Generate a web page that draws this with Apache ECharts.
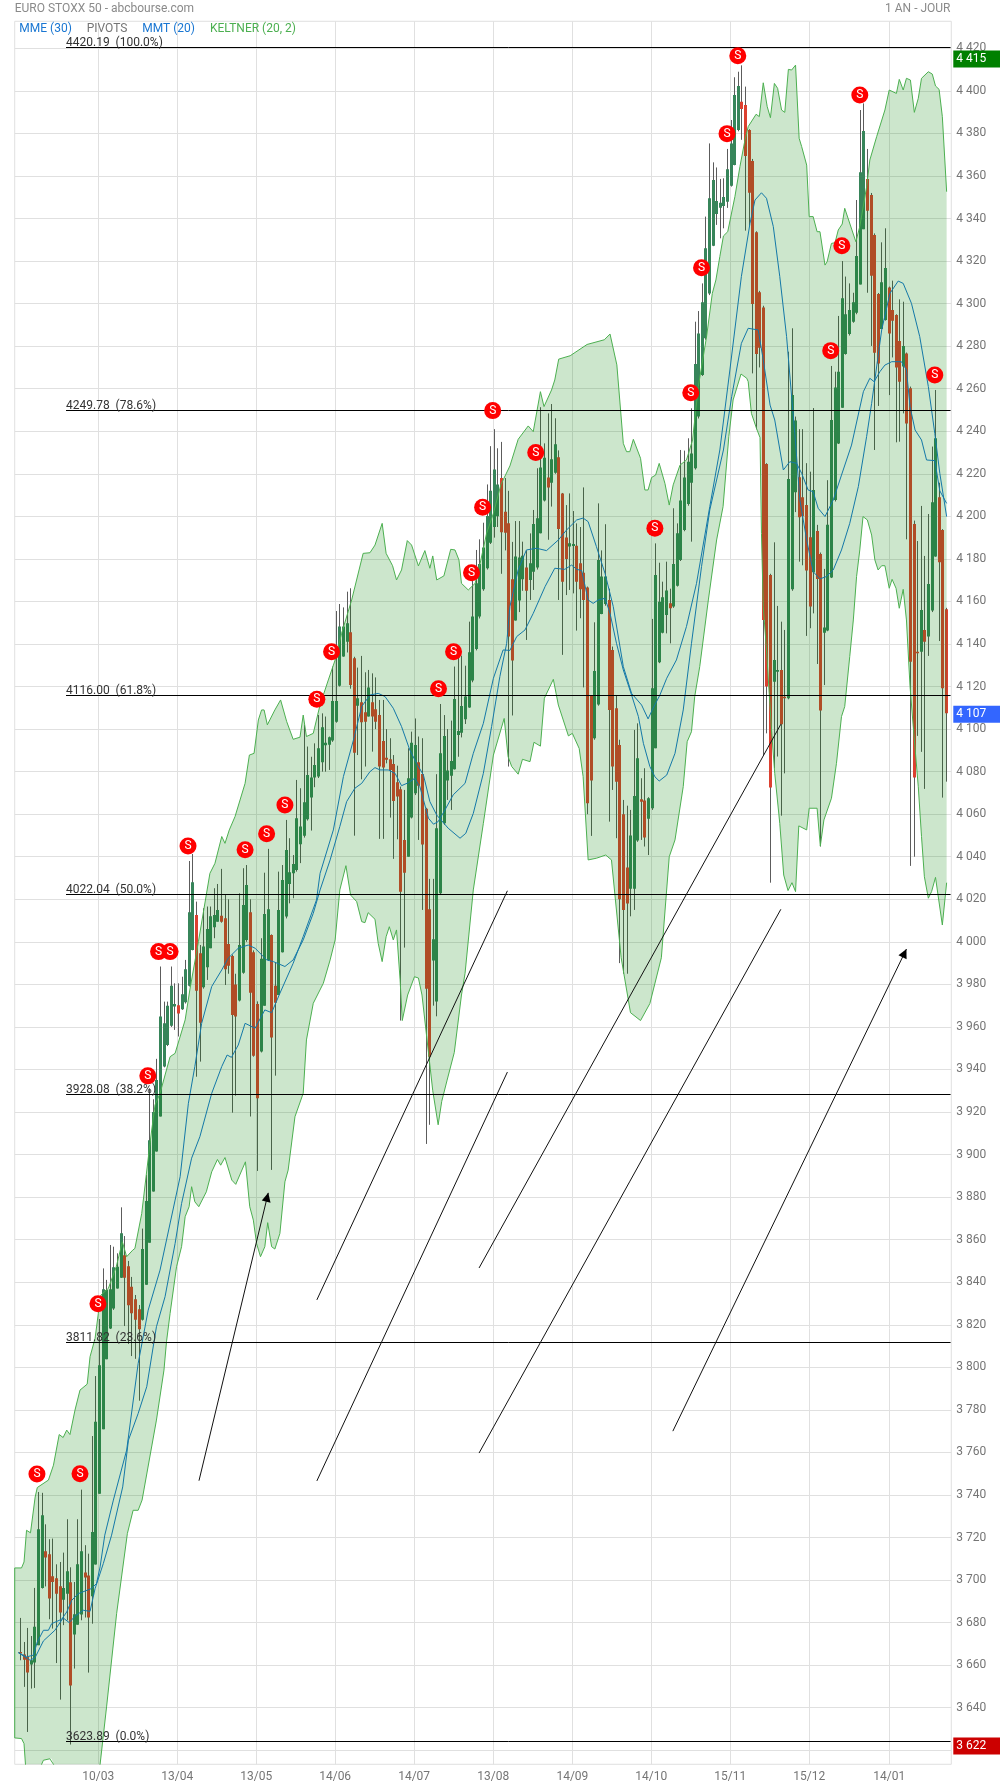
<!DOCTYPE html>
<html><head><meta charset="utf-8">
<style>html,body{margin:0;padding:0;background:#fff}#c{width:1000px;height:1787px}</style>
<script src="https://cdn.jsdelivr.net/npm/echarts@6/dist/echarts.min.js"></script>
</head><body><div id="c"></div>
<script>
const dateLabels=['10/03','13/04','13/05','14/06','14/07','13/08','14/09','14/10','15/11','15/12','14/01'];
const datePositions=[22.8,44.8,66.8,88.8,110.8,132.85,154.9,176.9,198.9,220.9,243.2];
const priceTicks=[3620,3640,3660,3680,3700,3720,3740,3760,3780,3800,3820,3840,3860,3880,3900,3920,3940,3960,3980,4000,4020,4040,4060,4080,4100,4120,4140,4160,4180,4200,4220,4240,4260,4280,4300,4320,4340,4360,4380,4400,4420];
// open, close, low, high per session (index 0 is an empty slot)
const opens=[null,
3666.2,3665,3663.9,3660.3,3661.2,3669.4,3696.3,3713.6,3712.1,3701.8,
3700.9,3697.1,3690.8,3693.6,3699,3674.4,3679,3683.8,3703.5,3702.1,
3692.4,3707.3,3740.6,3770.9,3803.8,3818.2,3827.6,3837,3842.1,3852.7,
3847.5,3837.9,3832,3827.3,3822.4,3838.8,3858.6,3882.6,3901.4,3917.9,
3941.4,3951.5,3960.6,3969.6,3970.2,3968.3,3971.6,3979.4,3996.2,4012.6,
3994.6,3978.6,3988,3997,4006.8,4009.5,4012.3,4011.1,3999,3993.4,
3980,3972.4,3985.5,4000.9,4013.9,3995.1,3970.8,3948.4,3970,3991.5,
4003.2,3979.3,3975,3995.1,4011.9,4027.2,4032.2,4033.8,4045.9,4049.9,
4057.6,4067.9,4077.3,4077.7,4084.4,4092.4,4092.6,4094.6,4103.5,4120.4,
4134.1,4141.1,4145.5,4133.3,4111,4112.6,4107.9,4105.9,4112.6,4109.3,
4106.6,4094.4,4086.5,4085.8,4083.6,4075,4071.7,4047.9,4040,4058.4,
4069.8,4084.4,4078.9,4062.5,4015.3,3991.2,3972,4022.8,4055.7,4075.8,
4078.1,4081.1,4097.2,4098.3,4104.6,4110.1,4122.8,4137.7,4152.9,4165.7,
4175.6,4187.6,4195,4200,4218,4202.2,4196.7,4170.4,4151,4160.4,
4170.4,4176,4170.1,4174,4175.9,4192,4207.4,4218.3,4215.8,4220.5,
4227.8,4210.8,4190.1,4185.8,4186.1,4186.2,4177.9,4173.5,4166.6,4115.7,
4095.7,4111.6,4154.1,4158.8,4160.7,4137.2,4109.8,4092.5,4060,4035,
4025,4025,4047.6,4067,4066.4,4057.8,4062.8,4091,4131.4,4145.3,
4153.6,4159.1,4157.6,4167.4,4179.5,4193.6,4205.8,4215.8,4222.6,4246.9,
4266.4,4283.7,4304.8,4327.2,4342.1,4345.1,4345.9,4347.9,4355.4,4365.1,
4381.6,4394.9,4393.3,4381.6,4367,4333.5,4305.3,4298.2,4224.6,4172.4,
4122.3,4127,4127.8,4115.2,4114.5,4165.7,4211.3,4218.4,4209,4205.3,
4190.2,4173.7,4193.1,4182.3,4145.3,4146.3,4171.3,4207.7,4234.3,4251.1,
4276.3,4285.7,4291.5,4295.7,4309,4335,4358.6,4351,4332.2,4304.5,
4288.1,4292.3,4307.6,4297,4294.6,4282.4,4270.4,4276.6,4260.2,4196.4,
4136.4,4136.4,4146.6,4143.5,4155.7,4181.1,4209,4193.6,4156.3];
const closes=[null,
3665.8,3662.6,3656.5,3662.3,3678,3723.9,3730.5,3710.6,3691.3,3699.1,
3693.6,3684.7,3696.3,3704.1,3650.4,3683.9,3707.4,3713.6,3701.2,3682.4,
3722.6,3774.4,3801,3836.7,3836.4,3836.7,3847,3847.3,3863,3842.1,
3829.2,3825.4,3822.4,3817.9,3855.6,3878.2,3906.7,3920,3935.1,3964.9,
3961.7,3969.9,3979.3,3970.8,3966.3,3975.4,3987.1,4013.9,4028,3977,
3962,3997.8,4006,4012,4012.6,4015,4009.5,3987.1,3988.8,3965.6,
3964.9,3998.5,4017.3,4026.7,3976.1,3946.5,3926.5,3992,4013.1,4015.3,
3955,3971.4,4015,4029.1,4043.2,4032.7,4036.6,4058.1,4054.2,4065.6,
4078.4,4077.3,4083.1,4091,4100.9,4093.6,4096.2,4113.2,4113.2,4148.2,
4148.2,4149.7,4120.7,4088.9,4114.5,4103.2,4103.5,4119.6,4105.9,4103.5,
4082.4,4082,4085.6,4080.8,4066.2,4068.3,4023.6,4032.5,4076.9,4093.6,
4092.5,4073.4,4045.8,3978,3946,4001.2,4053.4,4088.6,4096.8,4080.5,
4085,4114.2,4099.1,4110.9,4115.3,4136.1,4152.9,4168.5,4177.6,4185.4,
4200.2,4212,4222,4215,4192.5,4192.3,4143.5,4132.2,4181.1,4180.7,
4181.5,4165,4177.9,4196.4,4199.1,4223,4227.6,4213.6,4226.8,4233.9,
4194,4169.3,4180,4187.3,4187,4169.3,4165.7,4160.7,4065.1,4075.8,
4127.3,4179.5,4171.7,4171.7,4109,4082.4,4075.3,4020,4015,4018,
4050,4068.6,4086.3,4065.9,4049.1,4067.5,4119.2,4172.4,4159.9,4162,
4165.1,4156.8,4177.6,4192,4207.4,4218.3,4225.7,4229.6,4271.6,4286,
4300.6,4326,4349.5,4358.1,4348.2,4347.4,4350.1,4363.1,4375.3,4398,
4402.3,4391.5,4369.4,4352.1,4299.8,4276.3,4279.3,4151.3,4120,4072.5,
4132.5,4127.8,4102.3,4114.6,4217.6,4257,4245,4199.6,4200,4174.5,
4157.6,4212.4,4170.6,4108.7,4147.8,4196,4245.3,4260.6,4268,4302.5,
4295,4297,4300.6,4322.4,4361.7,4381.1,4343.7,4313.1,4276.9,4271.9,
4310,4316.7,4286,4292,4270,4263.3,4280.1,4243.7,4131.7,4077.3,
4136.2,4156,4141.1,4168.2,4206.6,4236.7,4178.4,4119.2,4107.4];
const lows=[null,
3662.3,3649.8,3628.6,3649,3649.3,3669.4,3696,3697,3681.6,3677.2,
3661,3643.8,3678.8,3681.1,3622.7,3658.4,3679,3681.1,3682.4,3656.5,
3679.5,3707.3,3740.6,3770.9,3803.8,3818,3827,3837,3842,3819.4,
3811,3805.3,3804,3784.3,3822,3838.8,3858.6,3882.6,3901.4,3917.9,
3941,3951,3960,3958.6,3955.5,3968,3971,3979,3996,3936.6,
3943.7,3978,3982.1,3997,4001.7,4009.5,4009,3979.7,3985,3919.7,
3927.7,3972,3985,4000,3917.9,3946,3892.3,3948,3970,3991,
3892.8,3937.1,3975,3995,4011,4018.1,4020.5,4033,4037,4049,
4057,4052.3,4072.7,4077,4080,4080,4080.8,4094,4103,4120,
4134,4136,4119,4049.9,4087.8,4076.4,4082.4,4105.9,4089.4,4100,
4048.4,4048.4,4083.9,4058.4,4039,4048.2,3963,3997.3,4040,4058,
4069,4047.9,4015,3905,3914,3970,3965,4022,4055,4066.7,
4062,4081,4087,4096.1,4102.4,4110,4122,4137,4152,4165,
4175,4187,4190,4195,4173,4184,4082.4,4106.4,4151,4155,
4165,4141.9,4160.7,4165.4,4175,4192,4207,4189,4204.6,4220,
4160.7,4134.9,4163,4165.4,4163.8,4146.3,4152.1,4119.6,4060,4049.8,
4095,4111,4154,4158,4056.5,4071.4,4048.7,3990,3985,3985,
4012,4015,4047,4047.9,4044.8,4040.8,4062,4091,4131,4145,
4145,4140.3,4157,4167,4179,4193,4205,4188.1,4222,4246,
4266,4283,4304,4327,4337,4330.7,4335.4,4345,4355,4365,
4381,4377,4334.3,4336.6,4267.2,4240.9,4270,4087.8,4098,4027.8,
4081.6,4087.1,4059.3,4079.2,4114,4165,4202,4178.7,4177,4143.8,
4147.4,4154.4,4130.6,4044.8,4120.7,4146,4171,4207,4234,4251,
4276,4285,4291,4295,4309,4335,4305.1,4280.1,4231.2,4251.9,
4288,4292,4257,4274.7,4234.8,4235.1,4248.4,4189.2,4035.7,4040,
4096.8,4089.3,4071.9,4134.4,4155,4181,4141.4,4067.8,4075.3];
const highs=[null,
3682.2,3670.9,3677.5,3673.7,3696.3,3741.4,3741,3726.2,3719.2,3719.5,
3707.4,3708.5,3712.9,3728.6,3706,3699.1,3728.6,3742.5,3716.4,3712.4,
3767.7,3795.9,3822.7,3846.5,3841.1,3857.5,3856.7,3853.6,3875.2,3861.7,
3850,3842.5,3834,3829.3,3865.2,3890.4,3931.2,3926,3945,3988.4,
3971.9,3971.9,3988.4,3980.5,3980.5,3983.6,3991.5,4038,4041.3,4018.9,
3998.5,4015.8,4016.6,4016.6,4025.2,4027.2,4034.3,4022.1,4020,3994,
3985,4022.8,4034.6,4036.1,4020,3996,3972,4001.7,4032.5,4043.7,
4003.5,3990.1,4033,4036.1,4057.3,4048.7,4040.8,4076.1,4072.2,4101.9,
4091.8,4087,4093.3,4106.6,4107.4,4105.9,4096.5,4129.4,4155.5,4158.8,
4157.2,4164.6,4166.2,4134,4128.9,4134.4,4126.7,4127.8,4126.2,4124.3,
4113.7,4113.7,4100,4095.7,4087.8,4082.8,4073,4071.4,4091,4098.8,
4105,4096.5,4095.7,4063,4029.6,4029.6,4078.8,4111.8,4106.6,4100,
4104,4129.4,4137.7,4134.5,4129.8,4150.5,4172.9,4184.2,4189.2,4197,
4215,4233,4241,4232,4235,4218,4212,4188,4197.8,4197.8,
4188.1,4184,4192,4203,4222.6,4251.3,4234.3,4248.4,4252.8,4246.1,
4231,4211,4205.3,4210.8,4202.5,4196.7,4195,4213.6,4167,4116,
4150.2,4206.1,4184,4196.3,4166,4138.8,4116,4095,4066.7,4064,
4062,4099.6,4102.7,4076.9,4081.6,4068,4151.8,4187.3,4178.2,4169.3,
4178.7,4166,4203.8,4196.7,4231.2,4230.9,4236.7,4250.8,4291.5,4296.5,
4309.5,4340.9,4375.3,4366.4,4364,4358.6,4358.9,4372.7,4386.3,4406.4,
4409,4412,4402,4382,4368,4334,4306,4299,4225,4173,
4187.8,4157.9,4150.5,4146.6,4277.4,4288.4,4246.9,4241,4241,4225,
4221,4250.9,4196,4183,4175.3,4217,4270.7,4268,4294.2,4320,
4312.7,4309.5,4305.1,4348.7,4391,4394.1,4372.7,4352,4333,4305,
4328.8,4335.4,4308,4310.8,4295,4302,4300.9,4277,4261,4198,
4188.4,4204.9,4181.4,4201.1,4232.8,4259.4,4215.8,4194,4157];
const keltnerUpper=[[-0.5,3705.7],[1.4,3705.7],[2.1,3708.5],[2.8,3723.4],[3.9,3722.2],[5.2,3739],[5.8,3743.5],[8.9,3747],[10.3,3754],[11.9,3768.4],[13,3767],[14,3770.5],[14.9,3768.4],[16.3,3779.9],[17.7,3789.3],[19.7,3792.1],[20.5,3805],[21.9,3813.6],[22.8,3825.3],[23.5,3833.9],[25.6,3837.1],[27.8,3847.3],[29.5,3859],[30.7,3852],[32.4,3855.1],[33,3855.9],[34.9,3872.3],[37.2,3905.3],[38.6,3923.3],[40,3928.8],[42.8,3946],[44.2,3947.6],[47,3963.3],[48.3,3977.4],[50.7,4000.1],[53.9,4032.2],[55.3,4036.9],[57.2,4049.5],[58.1,4046.3],[59.3,4052.6],[60.9,4058.9],[63.7,4074.5],[64.9,4087.8],[66.2,4088.6],[67.4,4104.3],[68.3,4109],[69,4109],[69.9,4102],[72,4109],[73.6,4113.7],[75.3,4103.5],[77.1,4095.2],[79,4096.2],[79.9,4106.6],[80.8,4096.5],[82.7,4098],[84.6,4111.4],[86.9,4123.1],[88.8,4132.5],[90.6,4145],[93.4,4160.7],[96.6,4182.6],[98.5,4182.9],[99.9,4186.5],[101.9,4196.7],[103,4182.6],[104.8,4176.8],[105.9,4170.1],[107.3,4174.8],[108.9,4188.6],[110.1,4186.5],[112,4176.7],[113.8,4183.9],[115.2,4175.6],[116,4181.4],[117.1,4170.1],[119.1,4172],[121,4184.5],[122.2,4184.2],[123.3,4179.5],[124,4168.5],[125.9,4165.4],[127.8,4168.5],[129.2,4177.9],[131,4192],[132.9,4201.4],[135,4215],[137.5,4223.7],[139.8,4236.2],[142.6,4242.5],[144,4239.8],[146,4258.6],[147,4251.6],[149.1,4259.4],[150,4264.1],[151.1,4273.9],[154.3,4275.5],[159,4280.8],[163.8,4283],[165.4,4285.7],[167.3,4271.2],[169.1,4234.3],[170,4230.4],[170.9,4230.4],[171.9,4236.2],[173.9,4227.3],[175.1,4212.4],[176,4212.4],[177,4218.3],[178.1,4219.4],[179.1,4224.9],[180.7,4215.5],[181.9,4205.3],[183,4214.8],[184.9,4224.1],[186.7,4226.5],[188.4,4235.9],[190,4261],[192.3,4284.5],[193.9,4304.8],[194.9,4311.1],[196,4322.1],[197,4331.8],[198.2,4333.8],[200.2,4350.3],[201.6,4364.4],[203,4376.9],[203.9,4383.2],[206.1,4389],[207,4387.9],[208.1,4403.8],[209.2,4392.6],[210.1,4387.4],[211.2,4403.5],[212.1,4401.2],[213.2,4391],[214.1,4389.9],[215.1,4410.1],[216,4409.8],[217.1,4412.1],[218.1,4377.7],[218.8,4373.8],[220.2,4365.1],[220.9,4340.9],[222,4340.9],[223.1,4333.8],[223.9,4333.8],[225.3,4318.1],[225.9,4319.7],[227.1,4328.3],[228.1,4328.6],[229,4334.6],[230.1,4337.4],[230.8,4344.8],[233.9,4329.1],[235,4336.2],[236.9,4354.9],[237.8,4367.5],[239.7,4378.5],[242,4391],[243.2,4400.4],[245.2,4398.8],[246,4405.4],[247.1,4400.4],[248,4405.9],[249.1,4405.1],[250.2,4389.9],[251.3,4396.5],[252.2,4405.9],[254.1,4409],[255.2,4407.9],[256.1,4402.3],[257.1,4400.7],[258,4387.9],[259.2,4352.6]];
const keltnerLower=[[-0.5,3625.8],[1.4,3625.5],[2.1,3623.1],[2.5,3613.4],[3,3605],[6.5,3605],[7,3613.4],[7.5,3615.3],[9.3,3616],[9.8,3616],[10.3,3613.4],[12,3609],[21.4,3609],[23.3,3613.4],[25.1,3640.4],[27.9,3684.2],[30.9,3721.9],[32.5,3732.8],[33.9,3732.8],[35,3737.6],[39,3775.2],[41.1,3798.7],[41.8,3812],[42.8,3825.3],[44.6,3847.3],[46,3856.7],[47,3870.8],[48.1,3875.5],[48.8,3884.9],[49.7,3877.8],[50.8,3875.5],[52.9,3882.5],[54.4,3891.9],[56,3897.7],[56.9,3895],[58.1,3898.6],[60,3888],[61.1,3886],[63.8,3896.6],[65,3875.5],[66,3869.2],[66.9,3858.2],[68,3852],[69.2,3856.7],[70,3868],[71.1,3856.7],[72,3855.6],[73.4,3862.9],[74.8,3887.2],[75.7,3892.7],[77.6,3917.8],[79.9,3928.8],[80.8,3953.9],[82.7,3971.1],[85.5,3980.5],[87.4,3991.5],[88.8,4000.9],[90.1,4024.4],[91.8,4035.8],[93.1,4022],[94.8,4018.9],[96.2,4009.5],[97.1,4009],[98,4013.7],[99.9,4010.6],[100.8,3999.3],[101.9,3990.7],[103,4002.4],[103.9,4007.1],[105,4000.9],[105.9,4005.6],[106.9,3982.1],[107.5,3963],[109,3975],[110.9,3983.6],[112,3983],[113,3975],[114,3960],[116,3930],[117.5,3914],[118.5,3925],[120,3935],[122,3948],[124,3975],[125,3985.2],[127.3,4024.4],[130.1,4055.7],[132.9,4087.8],[135.9,4105],[137,4087],[138,4082.4],[139.8,4078.8],[141,4085.8],[143.1,4084.7],[144.2,4093.8],[146,4092],[147.1,4114.5],[149.6,4123.4],[151,4111.3],[153.8,4096.8],[154.9,4098],[156.8,4090.9],[157.9,4077.7],[159.3,4038.5],[161.6,4039.3],[164.2,4040.8],[165.8,4038.5],[168.5,3992.5],[171.1,3966.7],[173.9,3963],[176.5,3971],[179.7,3992.5],[181.9,4040],[183.5,4047.9],[185.8,4073],[186.9,4094.1],[188.1,4098.8],[189,4115.3],[190.4,4129.4],[192.8,4160.7],[195.1,4188.9],[196.9,4204.6],[198.5,4237.5],[199.7,4254.7],[201.9,4266.9],[203.5,4264.9],[203.9,4263.3],[204.8,4248.4],[206.2,4241.4],[207.2,4237],[207.6,4192],[208.1,4157.6],[209,4137.2],[210.4,4099.6],[211.3,4079.2],[212.7,4055.7],[213.8,4031.4],[215,4024.1],[216.1,4027.8],[217.1,4023.6],[218,4054.5],[220.2,4052.6],[220.9,4062.8],[223.1,4062.8],[224,4045],[225,4057.3],[227.1,4067.5],[228.5,4083.9],[229.9,4105.9],[230.8,4110.6],[232.2,4134.1],[233.2,4151.3],[234.1,4171.7],[235,4184.2],[235.9,4199.9],[237.1,4198.3],[238.3,4191.2],[239.2,4179.5],[240.1,4174.8],[241.1,4176.8],[242,4176.8],[243.2,4166.2],[244,4170.4],[245.1,4166.2],[246,4156.8],[247.1,4165.7],[248,4151.3],[249,4120],[249.9,4101.2],[251.3,4072.9],[252.2,4049.5],[253,4030.6],[254.1,4020.5],[255,4023.6],[256.1,4030.3],[258,4007.9],[259.2,4027.8]];
const mmeLine=[[0.5,3665.9],[2.8,3663.9],[4.7,3664.7],[5.8,3670.9],[7.5,3676.4],[8.9,3676.4],[9.8,3679.5],[12.6,3681.6],[14,3685],[15.4,3690.5],[17.2,3693.6],[20.9,3696],[22.3,3698.4],[23.3,3706.2],[24.6,3721.1],[27,3737.6],[30.7,3761.1],[33.9,3801.8],[36.7,3826.9],[40,3845.7],[44.2,3878.6],[45.6,3889.6],[47.9,3924.1],[49.7,3941.4],[51.6,3961.7],[54.4,3979],[57.2,3986.8],[59,3992.3],[61.8,3997],[64.6,3998.5],[66.5,3997],[69.7,3991.5],[71.6,3990.7],[74.8,3988.4],[77.1,3991.5],[79.9,4000.9],[82.7,4013.4],[84.6,4024.4],[87.4,4038.5],[90.1,4054.2],[92,4065.9],[94.3,4072.2],[96.2,4074.5],[98.5,4080],[99.9,4081.9],[101.3,4080.8],[103.6,4080.8],[105.5,4079.2],[107.3,4073.4],[109.2,4074.8],[111,4076.9],[112.4,4073],[114.8,4058.1],[116.2,4055.3],[117.5,4056.5],[119.4,4062],[121.7,4069.1],[125,4074.5],[127.3,4088.6],[130.1,4102.7],[132.9,4123.9],[135.6,4137.2],[137.5,4137],[139.4,4143.5],[141.7,4146.6],[144,4154.4],[147.3,4167],[150,4175.6],[152.8,4175.1],[154.7,4177.1],[156.1,4175.1],[157.5,4174.5],[159.3,4160.7],[160.7,4159.1],[162.1,4160.7],[164,4161.5],[165.4,4154.4],[167.2,4140.3],[169.1,4127.8],[171.4,4116],[173.3,4105.9],[174.7,4093.3],[176.5,4082.4],[177.9,4077.6],[179.1,4075.6],[181.2,4078.4],[183.5,4088.6],[185.8,4109],[188.1,4140.3],[190.9,4176.4],[193.2,4203],[197,4231.2],[199.3,4256.3],[202,4281.3],[203.9,4288.4],[206.7,4287.6],[208.1,4273.5],[210,4252.3],[211.3,4245.3],[213.7,4221.8],[215.5,4225.7],[217.4,4224.9],[218.8,4220.2],[220.6,4212.4],[222,4211.6],[223.4,4203.8],[225.3,4199.9],[227.6,4207.7],[229.9,4219.4],[232.7,4233.5],[236,4258.6],[237.8,4264.9],[239,4263.3],[240.6,4268],[242,4271.1],[243.9,4272.7],[246.6,4272.7],[248,4268.8],[249,4251.6],[250.4,4240.6],[252.2,4235.9],[253.6,4226.5],[255.9,4226.2],[257.3,4212],[259.2,4206.1]];
const mmtLine=[[0.5,3665.9],[3.8,3662.3],[5.2,3663.6],[7.5,3671.4],[10.7,3676.4],[13,3682.2],[14.7,3680],[16.3,3683],[18.6,3685.8],[20.5,3685.3],[21.9,3696],[24.2,3707.8],[26.5,3721.1],[29.6,3743.8],[31.2,3765.8],[33.9,3778.3],[36.3,3790.9],[39,3819.1],[41.4,3833.2],[44.2,3858.2],[46,3877],[48.8,3898.3],[51.1,3908.4],[54.4,3928.8],[57.2,3941.4],[58.7,3946.8],[59.9,3945.7],[61.8,3951.5],[63.7,3961.7],[66.5,3959.4],[69.2,3968],[71.1,3966.7],[73.4,3975.8],[77.1,3989.9],[79.9,4002.5],[83.6,4019.7],[84.6,4032.2],[88.3,4052.6],[91.1,4077.7],[93.9,4094.9],[96.2,4110.6],[98.5,4116],[100.8,4116.8],[102.7,4115.3],[105,4109.8],[107.3,4101.2],[109.6,4090.2],[111.5,4083.9],[113.4,4078.4],[115.2,4065.9],[117.1,4059.6],[120.3,4053.4],[123.6,4048.7],[125.2,4051],[127.3,4060.4],[130.1,4079.2],[132.4,4101.2],[134.7,4124.7],[136.6,4140.3],[137.5,4157.6],[139.8,4174.8],[142.1,4184.2],[144.9,4185],[147.7,4183.9],[151,4188.9],[153.3,4193.6],[156.1,4198.3],[157.9,4199.2],[159.3,4197.5],[161.6,4185.8],[164,4173.2],[166.3,4157.6],[169.1,4129.4],[171.4,4116.8],[174.2,4111.3],[176,4104.8],[177.4,4109.8],[179.3,4116],[181.2,4123.9],[183.9,4132.5],[186.7,4148.2],[189.5,4168.5],[193.2,4204.6],[196,4231.2],[198.8,4268.8],[202,4312.7],[204.4,4337.7],[205.8,4348.7],[207.6,4352.1],[209,4349.5],[210.9,4336.2],[212.7,4312.7],[214.6,4284.5],[216,4256.3],[216.9,4239],[218.3,4207.7],[220.2,4188.9],[222,4174],[223.9,4170.6],[225.7,4171.7],[227.6,4174.8],[229.9,4184.2],[232.2,4196.7],[234.6,4214],[236.9,4237.5],[238.3,4253.1],[241.1,4287.6],[243.4,4304.8],[245.7,4310.6],[247.1,4309.5],[249.4,4300.1],[251.7,4284.5],[254.1,4261],[255.9,4239],[257.3,4220.2],[259.2,4199.9]];
const sellSignals=[[5.7,3749.9],[17.7,3750],[22.7,3829.9],[36.6,3937],[39.6,3995.4],[42.8,3995.4],[47.8,4045],[63.7,4043.3],[69.7,4050.8],[74.8,4064.3],[83.7,4114],[87.8,4136.4],[117.6,4119],[121.8,4136.4],[126.8,4173.5],[129.9,4204.3],[132.7,4249.7],[144.7,4230],[177.9,4194.4],[187.9,4258.1],[190.9,4316.9],[198,4379.9],[201,4416.5],[226.9,4277.9],[230,4327.2],[235,4398.1],[255.9,4266.4]];
const fibValues=[4420.19,4249.78,4116.00,4022.04,3928.08,3811.82,3623.89];
const fibPercents=['100.0','78.6','61.8','50.0','38.2','23.6','0.0'];
const fibSpan=[13.8,260.3];
// [x1,y1,x2,y2,hasHead]
const trendLines=[[50.85,3746.7,70.16,3882,1],[83.7,3831.7,136.8,4024,0],[83.7,3746.6,136.8,3938.8,0],[128.9,3846.7,213,4102.3,0],[128.9,3759.7,213,4015.3,0],[182.9,3770,248,3996.6,1]];
const priceTags=[[4415,'4 415','#008000'],[4107,'4 107','#3366ff'],[3622,'3 622','#cc0000']];

const FONT='Roboto';
const fmtPrice=v=>{const s=String(Math.round(v));return s.slice(0,-3)+' '+s.slice(-3);};
const candleRows=[];
for(let i=1;i<opens.length;i++)candleRows.push([i,opens[i],closes[i],lows[i],highs[i]]);

function renderCandle(p,api){
  const x=api.value(0),o=api.value(1),c=api.value(2),l=api.value(3),h=api.value(4);
  const cx=Math.round(api.coord([x,o])[0]);
  const yo=api.coord([x,o])[1],yc=api.coord([x,c])[1],yl=api.coord([x,l])[1],yh=api.coord([x,h])[1];
  const up=c>=o;
  const top=Math.min(yo,yc),hgt=Math.max(Math.abs(yo-yc),1.5);
  return {type:'group',children:[
    {type:'line',shape:{x1:cx+.5,y1:yh,x2:cx+.5,y2:yl},style:{stroke:'#5c5c5c',lineWidth:1}},
    {type:'rect',shape:{x:cx-1,y:top,width:3,height:hgt},style:{fill:up?'#37855a':'#dc4030'}}
  ]};
}
function renderBand(p,api){
  const pts=keltnerUpper.map(d=>api.coord(d)).concat(keltnerLower.slice().reverse().map(d=>api.coord(d)));
  return {type:'polygon',shape:{points:pts},style:{fill:'rgba(0,128,0,0.2)',stroke:null}};
}
function renderFib(p,api){
  const v=api.value(0),idx=p.dataIndex;
  const a=api.coord([fibSpan[0],v]),b=api.coord([fibSpan[1],v]);
  const y=Math.floor(a[1])+.5;
  return {type:'group',children:[
    {type:'line',shape:{x1:a[0],y1:y,x2:b[0],y2:y},style:{stroke:'#000',lineWidth:1}},
    {type:'text',style:{x:a[0],y:y+1,text:fibValues[idx].toFixed(2)+'  ('+fibPercents[idx]+'%)',fill:'#333',font:'12px '+FONT,textAlign:'left',textVerticalAlign:'bottom'}}
  ]};
}
function renderTrend(p,api){
  const t=trendLines[p.dataIndex];
  const a=api.coord([t[0],t[1]]),b=api.coord([t[2],t[3]]);
  const kids=[{type:'line',shape:{x1:a[0],y1:a[1],x2:b[0],y2:b[1]},style:{stroke:'#111',lineWidth:1}}];
  if(t[4]){
    const dx=b[0]-a[0],dy=b[1]-a[1],n=Math.hypot(dx,dy),ux=dx/n,uy=dy/n,L=9,W=4.5;
    kids.push({type:'polygon',shape:{points:[[b[0],b[1]],[b[0]-ux*L-uy*W,b[1]-uy*L+ux*W],[b[0]-ux*L+uy*W,b[1]-uy*L-ux*W]]},style:{fill:'#000'}});
  }
  return {type:'group',children:kids};
}
function renderTag(p,api){
  const t=priceTags[p.dataIndex];
  const pt=api.coord([260.5,t[0]]);
  const y=pt[1];
  return {type:'group',children:[
    {type:'rect',shape:{x:pt[0]+2,y:y-8.5,width:50,height:17},style:{fill:t[2]}},
    {type:'text',style:{x:pt[0]+5,y:y,text:t[1],fill:'#fff',font:'12px '+FONT,textAlign:'left',textVerticalAlign:'middle'}}
  ]};
}
const chart=echarts.init(document.getElementById('c'),null,{renderer:'canvas'});
const headText=(text,left,top,color,right)=>{const o={text,top,padding:0,textStyle:{color,fontSize:12,fontWeight:'normal',fontFamily:FONT,lineHeight:14}};if(right!==undefined)o.right=right;else o.left=left;return o;};
chart.setOption({
  animation:false,
  backgroundColor:'#fff',
  title:[
    headText('EURO STOXX 50 - abcbourse.com',14.7,2,'#8a8a8a'),
    headText('1 AN - JOUR',0,2,'#8a8a8a',49.5),
    headText('MME (30)',19.3,22,'#1976d2'),
    headText('PIVOTS',86.7,22,'#757575'),
    headText('MMT (20)',142.3,22,'#1976d2'),
    headText('KELTNER (20, 2)',210,22,'#4caf50')
  ],
  grid:{left:14.7,right:48.7,top:21.3,bottom:22.7,show:true,borderColor:'#e0e0e0',borderWidth:1,backgroundColor:'transparent'},
  xAxis:{type:'value',min:-0.5,max:260.5,
    axisLine:{show:false},
    axisTick:{show:false,customValues:datePositions},
    splitLine:{show:true,lineStyle:{color:'#e0e0e0',width:1}},
    axisLabel:{customValues:datePositions,color:'#757575',fontFamily:FONT,fontSize:12,margin:7,hideOverlap:false,
      formatter:v=>{let b=0;datePositions.forEach((d,k)=>{if(Math.abs(d-v)<Math.abs(datePositions[b]-v))b=k;});return dateLabels[b];}}
  },
  yAxis:{type:'value',min:3613.4,max:4432.7,position:'right',
    axisLine:{show:false},
    axisTick:{show:false,customValues:priceTicks},
    splitLine:{show:true,lineStyle:{color:'#e0e0e0',width:1}},
    axisLabel:{customValues:priceTicks,color:'#757575',fontFamily:FONT,fontSize:12,margin:5,hideOverlap:false,formatter:v=>fmtPrice(v)}
  },
  series:[
    {type:'custom',name:'candles',z:2,clip:true,renderItem:renderCandle,data:candleRows,encode:{x:0,y:[1,2,3,4]}},
    {type:'line',name:'MME (30)',z:3,data:mmeLine,symbol:'none',lineStyle:{color:'#1976d2',width:1}},
    {type:'line',name:'MMT (20)',z:3,data:mmtLine,symbol:'none',lineStyle:{color:'#1976d2',width:1}},
    {type:'custom',name:'band',z:4,clip:true,renderItem:renderBand,data:[[0,4000]],encode:{x:0,y:1}},
    {type:'line',name:'KELTNER up',z:5,data:[keltnerLower[0]].concat(keltnerUpper),symbol:'none',lineStyle:{color:'#4caf50',width:1}},
    {type:'line',name:'KELTNER down',z:5,data:keltnerLower,symbol:'none',lineStyle:{color:'#4caf50',width:1}},
    {type:'custom',name:'pivots',z:6,renderItem:renderFib,data:fibValues.map(v=>[v]),encode:{y:0}},
    {type:'custom',name:'trends',z:6,renderItem:renderTrend,data:trendLines.map(t=>[t[0],t[1]]),encode:{x:0,y:1}},
    {type:'scatter',name:'signals',z:7,data:sellSignals,symbol:'circle',symbolSize:17,itemStyle:{color:'#ff0000',opacity:1},
      label:{show:true,position:'inside',formatter:'S',color:'#fff',fontFamily:FONT,fontSize:12}},
    {type:'custom',name:'tags',z:8,clip:false,renderItem:renderTag,data:priceTags.map(t=>[260.5,t[0]]),encode:{x:0,y:1}}
  ]
});
</script></body></html>
